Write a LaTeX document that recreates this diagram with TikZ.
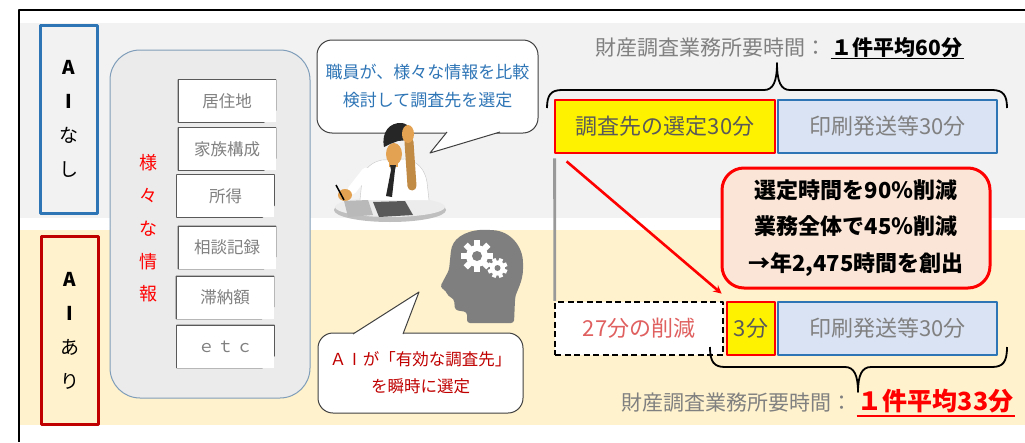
\documentclass[tikz,border=0pt]{standalone}
\usepackage{fontspec}
\setmainfont{Noto Sans CJK JP}
\usepackage{tikz}
\usetikzlibrary{positioning}

\definecolor{bggray}{HTML}{F2F2F2}
\definecolor{bgbeige}{HTML}{FFF2CC}
\definecolor{panelgray}{HTML}{EBEBEB}
\definecolor{panelline}{HTML}{7F9DB9}
\definecolor{aiblue}{HTML}{2E75B6}
\definecolor{aired}{HTML}{C00000}
\definecolor{barblue}{HTML}{DAE3F3}
\definecolor{peach}{HTML}{FBE5D6}
\definecolor{skin}{HTML}{E3A251}
\definecolor{headgray}{HTML}{7F7F7F}
\definecolor{cutred}{HTML}{E06060}

\begin{document}
\begin{tikzpicture}[x=1pt, y=-1pt, line join=round]
        \tikzstyle{side} = [minimum width=57pt, minimum height=188pt, line width=3pt, align=center, font=\fontsize{19}{34}\selectfont]
        \tikzstyle{doc} = [minimum width=97pt, minimum height=42pt, inner sep=0pt, fill=white, text=black!50, font=\fontsize{16.5}{20}\selectfont,
          append after command={\pgfextra{
            \fill[panelgray] (\tikzlastnode.south east) -- ([yshift=12pt]\tikzlastnode.south east) -- ([xshift=-12pt]\tikzlastnode.south east) -- cycle;
            \draw[black!65, line width=1.3pt] (\tikzlastnode.north west) -- (\tikzlastnode.north east) -- ([yshift=12pt]\tikzlastnode.south east) -- ([xshift=-12pt]\tikzlastnode.south east) -- (\tikzlastnode.south west) -- cycle;
            \draw[black!65, line width=0.8pt, fill=black!20] ([yshift=12pt]\tikzlastnode.south east) -- ([xshift=-9pt, yshift=8pt]\tikzlastnode.south east) -- ([xshift=-12pt]\tikzlastnode.south east);}}]
        \tikzstyle{bubble} = [draw=black!75, line width=1pt, fill=white, rounded corners=15pt, align=center, font=\fontsize{17}{28}\selectfont]
        \tikzstyle{bar} = [minimum height=53pt, inner sep=0pt, line width=2.8pt, font=\fontsize{22}{26}\selectfont]
        \tikzstyle{yellowbar} = [bar, fill=yellow, draw=red, text=black!65]
        \tikzstyle{bluebar} = [bar, fill=barblue, draw=aiblue, text=black!50]
        \tikzstyle{redbox} = [draw=red, fill=peach, line width=3pt, rounded corners=22pt, align=center, font=\bfseries\fontsize{22}{36.5}\selectfont]
        \tikzstyle{title} = [inner sep=1pt, text=black!50, font=\fontsize{21}{25}\selectfont]
        \useasboundingbox (0,0) rectangle (1025,442);
        \fill[bggray] (20,23) rectangle (1025,218);
        \fill[bgbeige] (20,230) rectangle (1025,425);
        \draw[line width=1.5pt] (1025,10) -- (19,10) -- (19,442);

        \node[side, draw=aiblue] (S-1) at (68.5,119) {\textbf{A}\\\textbf{I}\\な\\し};
        \node[side, draw=aired] (S-2) at (70,330.5) {\textbf{A}\\\textbf{I}\\あ\\り};

        \node[draw=panelline, fill=panelgray, line width=1pt, rounded corners=30pt, minimum width=200pt, minimum height=348pt] (P) at (210,224) {};
        \node[text=red, align=center, font=\fontsize{18}{32.75}\selectfont] (V) at (148,228.5) {様\\々\\な\\情\\報};
        \node[doc] (D-1) at (227,101) {居住地};
        \node[doc] (D-2) at (227,149) {家族構成};
        \node[doc] (D-3) at (225.5,196) {所得};
        \node[doc] (D-4) at (227,247.5) {相談記録};
        \node[doc] (D-5) at (225,297.5) {滞納額};
        \node[doc] (D-6) at (225.5,346.5) {ｅ\,ｔ\,ｃ};

        \node[bubble, text=aiblue, minimum width=221pt, minimum height=93pt] (C-1) at (427.5,86.5) {職員が、様々な情報を比較\\検討して調査先を選定};
        \coordinate (C-1-tip) at (430,153);
        \draw[black!75, line width=1pt, fill=white] ([xshift=19.5pt, yshift=1.5pt]C-1.south) -- (C-1-tip) -- ([xshift=72.5pt, yshift=1.5pt]C-1.south);

        % man at the desk, holding his head
        \fill[gray!50] (390,210) ellipse (56pt and 12pt);
        \fill[gray!15] (390,207) ellipse (55pt and 10pt);
        \fill[white] (360,200) -- (362,180) .. controls (364,168) and (372,162) .. (382,160) -- (405,159) .. controls (418,161) and (425,170) .. (427,182) -- (429,200) -- cycle;
        \draw[gray!45] (360,200) -- (362,180) .. controls (364,168) and (372,162) .. (382,160) -- (405,159) .. controls (418,161) and (425,170) .. (427,182) -- (429,200);
        \fill[skin] (389,158) rectangle (398,167);
        \fill[black!85] (390,165) -- (396,165) -- (395,170) -- (392,197) -- (386,196) -- (391,170) -- cycle;
        \fill[skin] (394,154) ellipse (8pt and 11pt);
        \fill[black!85] (384,147) .. controls (381,132) and (390,122) .. (402,123) .. controls (410,124) and (412,132) .. (408,140) -- (398,141) -- (390,144) -- cycle;
        \draw[skin!85!black, line width=9pt, line cap=round] (409,142) -- (412,186);
        \fill[skin] (408,134) ellipse (6pt and 9pt);
        \draw[white, line width=9pt, line cap=round] (366,172) -- (352,190);
        \fill[skin] (345,195) ellipse (7pt and 6pt);
        \draw[black, line width=1.5pt] (336,185) -- (344,200);
        \fill[gray!55] (344,201) -- (368,200) -- (373,215) -- (348,217) -- cycle;
        \fill[black!65] (373,202) -- (405,201) -- (413,215) -- (379,217) -- cycle;

        % AI head with gears
        \fill[headgray, rounded corners=3pt] (467,323) -- (467,312) -- (455,310) -- (454,299) -- (448,296) -- (446,291) -- (440,287) -- (449,270) -- (451,250) .. controls (455,236) and (470,229) .. (490,230) .. controls (510,231) and (523,246) .. (523,266) .. controls (523,282) and (516,292) .. (515,300) -- (514,323) -- cycle;
        \foreach \a in {0,45,...,315}
          \fill[white, rotate around={\a:(477,256)}] (474,240) rectangle (480,246);
        \fill[white] (477,256) circle (11pt);
        \fill[headgray] (477,256) circle (5pt);
        \foreach \a in {0,45,...,315}
          \fill[white, rotate around={\a+22.5:(497.5,268)}] (495.5,258) rectangle (499.5,262);
        \fill[white] (497.5,268) circle (7.5pt);
        \fill[headgray] (497.5,268) circle (3pt);

        \node[bubble, text=aired, minimum width=205pt, minimum height=80pt, font=\fontsize{16.5}{27}\selectfont] (C-2) at (420.5,373) {Ａ\makebox[1em]{I}が「有効な調査先」\\を瞬時に選定};
        \coordinate (C-2-tip) at (419,292);
        \draw[black!75, line width=1pt, fill=white] ([xshift=-67.5pt, yshift=-1.5pt]C-2.north) -- (C-2-tip) -- ([xshift=-17.5pt, yshift=-1.5pt]C-2.north);

        \node[title] (T-1) at (711,48) {財産調査業務所要時間：};
        \node[title, text=black, font=\bfseries\fontsize{21}{25}\selectfont, base right=3pt of T-1] (T-2) {１件平均60分};
        \draw[line width=1pt] ([yshift=-3pt]T-2.base west) -- ([yshift=-3pt]T-2.base east);
        \draw[line width=1.8pt] (547,108) .. controls (547,95) and (551,90) .. (562,90) -- (764,90) .. controls (773,90) and (777,82) .. (777,63) .. controls (777,82) and (781,90) .. (790,90) -- (992,90) .. controls (1003,90) and (1007,95) .. (1007,108);

        \node[bluebar, minimum width=219pt] (B-1) at (887.5,126.5) {印刷発送等30分};
        \node[yellowbar, minimum width=220pt] (Y-1) at (665,126.5) {調査先の選定30分};

        \node[redbox, minimum width=268pt, minimum height=120pt] (R) at (856,228) {選定時間を90％削減\\業務全体で45％削減\\→年2,475時間を創出};

        \node[bar, draw=black, dash pattern=on 6pt off 3.5pt, line width=2.5pt, fill=white, text=cutred, minimum width=168pt] (D-0) at (639,328.5) {27分の削減};
        \node[bluebar, minimum width=219pt] (B-2) at (887.5,328.5) {印刷発送等30分};
        \node[yellowbar, minimum width=48pt] (Y-2) at (751,328.5) {3分};

        \draw[black!40, line width=2.8pt] ([xshift=1pt, yshift=-4pt]Y-1.south west) -- ([xshift=1pt]D-0.north west);
        \draw[red, line width=2.6pt, -stealth] ([xshift=13pt, yshift=-7pt]Y-1.south west) -- ([xshift=-4pt, yshift=7pt]Y-2.north west);

        \draw[line width=1.8pt] (710,347) .. controls (710,362) and (714,367) .. (725,367) -- (845,367) .. controls (854,367) and (858,375) .. (858,392) .. controls (858,375) and (862,367) .. (871,367) -- (992,367) .. controls (1003,367) and (1007,362) .. (1007,347);
        \node[title] (T-3) at (737,403) {財産調査業務所要時間：};
        \node[title, text=red, font=\bfseries\fontsize{25}{30}\selectfont, base right=3pt of T-3] (T-4) {１件平均33分};
        \draw[red, line width=1.5pt] ([yshift=-5pt]T-4.base west) -- ([yshift=-5pt]T-4.base east);
\end{tikzpicture}
\end{document}
